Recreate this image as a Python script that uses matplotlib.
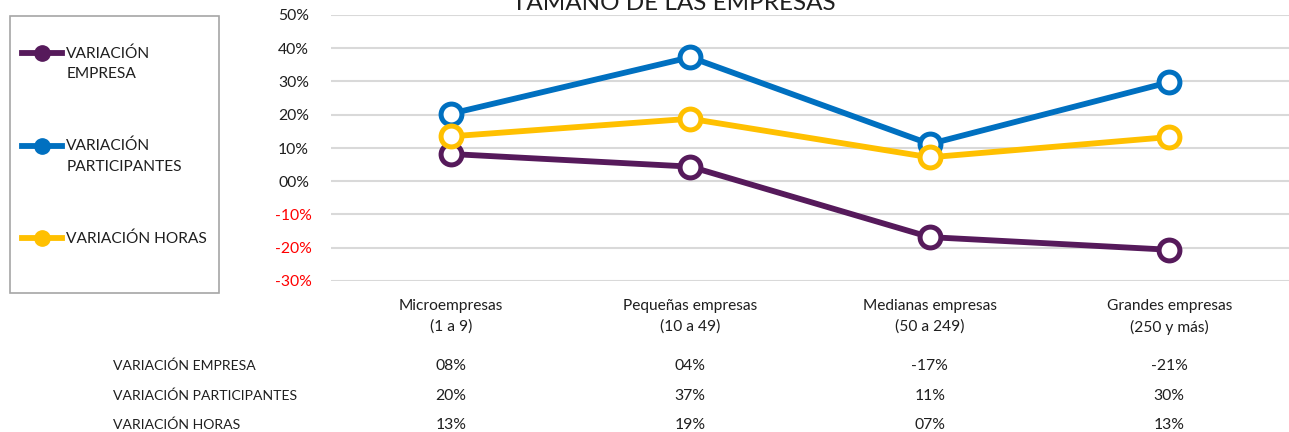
import matplotlib
matplotlib.use("Agg")
import numpy as np
import matplotlib.pyplot as plt
from matplotlib.lines import Line2D
from matplotlib.patches import Rectangle
from matplotlib.legend_handler import HandlerLine2D
from matplotlib.transforms import blended_transform_factory

# ---------------- data ----------------
categories = ["Microempresas\n(1 a 9)", "Pequeñas empresas\n(10 a 49)",
              "Medianas empresas\n(50 a 249)", "Grandes empresas\n(250 y más)"]
series_names = ["VARIACIÓN EMPRESA", "VARIACIÓN PARTICIPANTES", "VARIACIÓN HORAS"]
legend_labels = ["VARIACIÓN\nEMPRESA", "VARIACIÓN\nPARTICIPANTES", "VARIACIÓN HORAS"]
var_empresa = [8.2, 4.4, -16.8, -20.6]
var_participantes = [20.3, 37.3, 11.2, 29.8]
var_horas = [13.5, 18.8, 7.2, 13.3]
table_empresa = ["08%", "04%", "-17%", "-21%"]
table_participantes = ["20%", "37%", "11%", "30%"]
table_horas = ["13%", "19%", "07%", "13%"]
yticks = [-30, -20, -10, 0, 10, 20, 30, 40, 50]
ytick_labels = ["-30%", "-20%", "-10%", "00%", "10%", "20%", "30%", "40%", "50%"]
title = "TAMAÑO DE LAS EMPRESAS"

colors = ["#561A5B", "#0070C0", "#FFC000"]
TXT = "#1F1F1F"
plt.rcParams["font.family"] = ["Lato", "DejaVu Sans"]
FS_ROW = 10.1     # table row names
FS_NUM = 11.3     # numbers (ticks, table values)
FS_CAT = 11.2     # category labels
FS_LEG = 11.2     # legend

W, H = 1289, 432
fig = plt.figure(figsize=(W / 100, H / 100), dpi=100)
ax = fig.add_axes([331 / W, 1 - 281 / H, (W - 331) / W, (281 - 15) / H])

x = np.arange(len(categories))
series = [var_empresa, var_participantes, var_horas]
for i, (vals, c) in enumerate(zip(series, colors)):
    ax.plot(x, vals, color=c, lw=4.2, marker="o", ms=15, mfc="white", mec=c,
            mew=3.6, zorder=3 + i, clip_on=False, solid_capstyle="round")

ax.set_xlim(-0.5, len(categories) - 0.5)
ax.set_ylim(-30, 50)
ax.set_yticks(yticks)
ax.set_yticklabels(ytick_labels, fontsize=FS_NUM)
for lab, v in zip(ax.get_yticklabels(), yticks):
    lab.set_horizontalalignment("center")
    lab.set_color("#FF0000" if v < 0 else TXT)
ax.tick_params(axis="y", length=0, pad=27)
ax.set_xticks(x)
ax.set_xticklabels(categories, fontsize=FS_CAT, color=TXT, linespacing=1.6)
ax.tick_params(axis="x", length=0, pad=13)
ax.yaxis.grid(True, color="#D9D9D9", lw=1.5)
ax.set_axisbelow(True)
for s in ax.spines.values():
    s.set_visible(False)

# title (clipped at the top like the reference)
fig.text(674 / W, 1 - 10 / H, title, ha="center", va="baseline", fontsize=17.5,
         color=TXT)

# data table under the chart
trans = blended_transform_factory(ax.transData, fig.transFigure)
rows = [table_empresa, table_participantes, table_horas]
row_y = [366, 396, 425]
for name, vals, yy in zip(series_names, rows, row_y):
    fig.text(113 / W, 1 - yy / H, name, ha="left", va="center", fontsize=FS_ROW,
             color=TXT)
    for xi, v in zip(x, vals):
        ax.text(xi, 1 - yy / H, v, transform=trans, ha="center", va="center",
                fontsize=FS_NUM, color=TXT)

# legend box
fig.patches.append(Rectangle((10 / W, 1 - 293 / H), 209 / W, 277 / H,
                             transform=fig.transFigure, fill=False,
                             edgecolor="#A6A6A6", lw=1.2))


class HandlerTop(HandlerLine2D):
    def __init__(self, shift, **kw):
        super().__init__(**kw)
        self.shift = shift

    def create_artists(self, legend, orig_handle, xdescent, ydescent, width,
                       height, fontsize, trans):
        arts = super().create_artists(legend, orig_handle, xdescent, ydescent,
                                      width, height, fontsize, trans)
        for a in arts:
            a.set_ydata(np.asarray(a.get_ydata()) + self.shift)
        return arts


handles = [Line2D([], [], color=c, lw=4.2, marker="o", ms=11, mfc=c, mec=c)
           for c in colors]
hmap = {h: HandlerTop(7.9 if "\n" in lab else 0.0, numpoints=1)
        for h, lab in zip(handles, legend_labels)}
leg = fig.legend(handles, legend_labels, loc="upper left",
                 bbox_to_anchor=(22 / W, 1 - 46 / H), frameon=False,
                 handlelength=2.6, handletextpad=0.25, labelspacing=3.72,
                 borderpad=0, borderaxespad=0, fontsize=FS_LEG, handler_map=hmap)
for t in leg.get_texts():
    t.set_linespacing(1.6)
    t.set_color(TXT)

fig.savefig("out.png", dpi=100)
